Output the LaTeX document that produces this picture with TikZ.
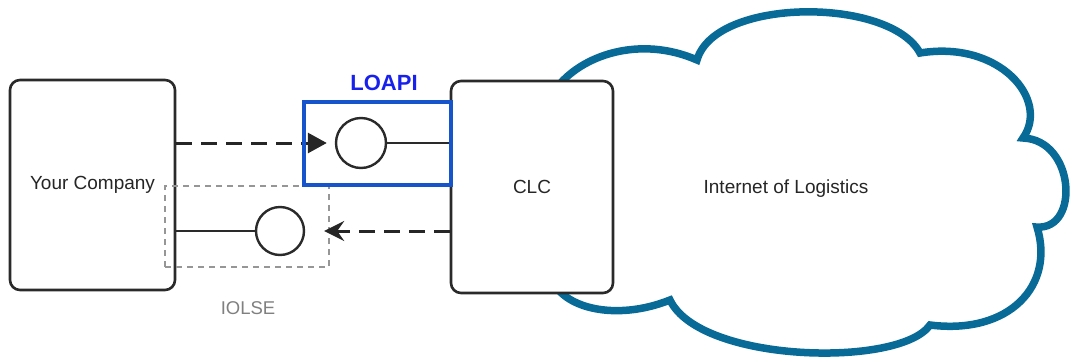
\documentclass[tikz,border=0pt]{standalone}
\usepackage{fontspec}
\setmainfont{Liberation Sans}
\usetikzlibrary{arrows.meta}
\definecolor{cloudblue}{RGB}{8,106,150}
\definecolor{apiblue}{RGB}{22,84,204}
\definecolor{labelblue}{RGB}{24,32,236}
\definecolor{edgegray}{RGB}{42,42,42}
\definecolor{boxgray}{RGB}{150,150,150}
\definecolor{textgray}{RGB}{128,128,128}
\tikzset{
  party/.style={draw=edgegray, line width=2.6pt, rounded corners=10pt, fill=white,
    font=\fontsize{19}{22}\selectfont, text=black!85},
  port/.style={circle, draw=edgegray, line width=2.4pt, fill=white, inner sep=0pt},
  wire/.style={draw=edgegray, line width=2.8pt},
  msgline/.style={draw=black!85, line width=3pt, dash pattern=on 16pt off 9pt},
  apibox/.style={draw=apiblue, line width=4.6pt, inner sep=0pt},
  sidebox/.style={draw=boxgray, line width=2.2pt, dash pattern=on 6pt off 5pt, inner sep=0pt},
  cloudline/.style={draw=cloudblue, line width=7.5pt, fill=white}
}
\begin{document}
\begin{tikzpicture}[x=1pt, y=-1pt]
\useasboundingbox (0,0) rectangle (1074,362);

% the network cloud
\path[cloudline] (697,60)
  .. controls (715,-3) and (890,-3) .. (920,53)
  .. controls (1000,40) and (1050,100) .. (1023,138)
  .. controls (1075,140) and (1080,230) .. (1037,227)
  .. controls (1055,285) and (1010,335) .. (930,325)
  .. controls (900,368) and (700,363) .. (670,300)
  .. controls (620,320) and (570,310) .. (555,285)
  .. controls (520,240) and (520,140) .. (555,90)
  .. controls (580,55) and (640,35) .. (697,60) -- cycle;
\node[font=\fontsize{19}{22}\selectfont, text=black!85] (iol) at (786,189) {Internet of Logistics};

% the two parties
\node[party, minimum width=165pt, minimum height=210pt] (yc) at (92.5,185) {Your Company};
\node[party, minimum width=162pt, minimum height=212pt] (clc) at (532,187) {CLC};

% interface ports
\node[port, minimum size=50pt] (p1) at (361,143) {};
\node[port, minimum size=48pt] (p2) at (280,231) {};

% IOLSE interface frame
\node[sidebox, minimum width=164pt, minimum height=81pt] (iolse) at (247,226.5) {};
\node[font=\fontsize{18.5}{22}\selectfont, text=textgray] (iolselbl) at (248,308) {IOLSE};

% connectors
\draw[msgline, -{Triangle[length=19pt, width=20pt]}] (yc.east |- p1) -- ([xshift=-8pt]p1.west);
\draw[wire] (p1.east) -- (clc.west |- p1);
\draw[wire] (yc.east |- p2) -- (p2.west);
\draw[msgline, -{Stealth[length=20pt, width=20pt, inset=7pt]}] (clc.west |- p2) -- ([xshift=19pt]p2.east);

% LOAPI interface frame
\node[apibox, minimum width=147pt, minimum height=83pt] (loapi) at (377.5,143.5) {};
\node[font=\bfseries\fontsize{22}{26}\selectfont, text=labelblue] (loapilbl) at (384,83) {LOAPI};
\end{tikzpicture}
\end{document}
